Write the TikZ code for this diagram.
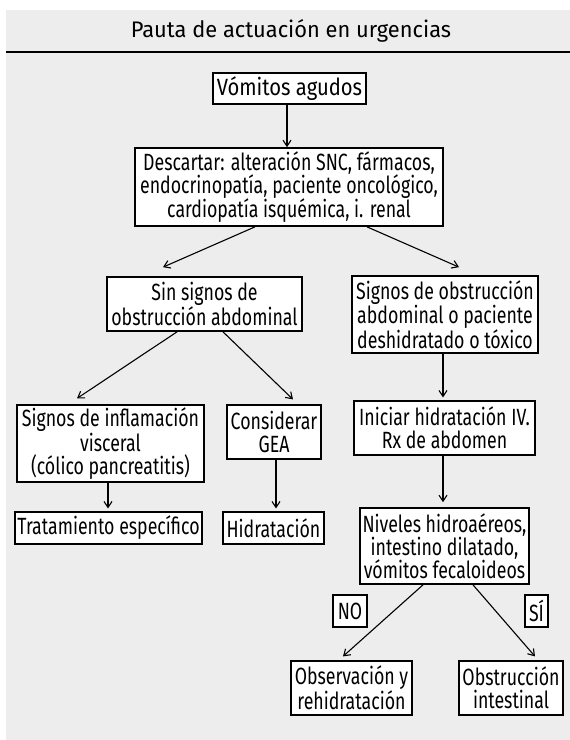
\documentclass[tikz,border=0pt]{standalone}
\usepackage{fontspec}
\setmainfont{Fira Sans}[FakeStretch=0.755]
\newfontfamily\titlefamily{Fira Sans}[FakeStretch=0.97]
\newfontfamily\headfamily{Fira Sans}[FakeStretch=0.86]
\usetikzlibrary{arrows.meta}
\definecolor{panel}{HTML}{EDEDED}
\newcommand\boxfont{\fontsize{23.5}{23}\selectfont}
\newcommand\headfont{\headfamily\fontsize{23.5}{23}\selectfont}
\newcommand\titlefont{\titlefamily\fontsize{22.5}{24}\selectfont}
\begin{document}
\begin{tikzpicture}[x=1pt,y=-1pt,
  box/.style={draw=black, fill=white, line width=1.2pt, inner sep=0pt,
              align=center, font=\boxfont},
  boldbox/.style={box, line width=1.7pt},
  arr/.style={-{Straight Barb[length=6pt,width=8pt]}, line width=1.1pt}]

% page and panel
\useasboundingbox (0,0) rectangle (570,740);
\fill[white] (0,0) rectangle (570,740);
\fill[panel] (6,10) rectangle (570,740);

% title bar
\node[font=\titlefont, anchor=base] (title) at (291,37) {Pauta de actuación en urgencias};
\coordinate (ruleL) at (6,52);
\coordinate (ruleR) at (570,52);
\draw[line width=2.2pt] (ruleL) -- (ruleR);

% boxes
\node[boldbox, font=\headfont, minimum width=153pt, minimum height=31pt] (vom) at (289.5,88.5) {Vómitos agudos};
\node[boldbox, minimum width=308pt, minimum height=78pt] (desc) at (289,187)
  {Descartar: alteración SNC, fármacos,\\endocrinopatía, paciente oncológico,\\cardiopatía isquémica, i. renal};
\node[boldbox, minimum width=195pt, minimum height=54pt] (sin) at (204.5,304)
  {Sin signos de\\obstrucción abdominal};
\node[boldbox, minimum width=186pt, minimum height=77pt] (obs) at (445,314.5)
  {Signos de obstrucción\\abdominal o paciente\\deshidratado o tóxico};
\node[box, minimum width=187pt, minimum height=77pt] (infl) at (110.5,443.5)
  {Signos de inflamación\\visceral\\(cólico pancreatitis)};
\node[box, minimum width=94pt, minimum height=54pt] (cons) at (274,432)
  {Considerar\\GEA};
\node[box, minimum width=181pt, minimum height=54pt] (ini) at (444.5,428)
  {Iniciar hidratación IV.\\Rx de abdomen};
\node[box, minimum width=187pt, minimum height=32pt] (trat) at (108.5,528)
  {Tratamiento específico};
\node[box, minimum width=101pt, minimum height=32pt] (hid) at (273.5,528)
  {Hidratación};
\node[boldbox, minimum width=169pt, minimum height=76pt] (niv) at (444.5,546)
  {Niveles hidroaéreos,\\intestino dilatado,\\vómitos fecaloideos};
\node[box, minimum width=34pt, minimum height=32pt] (no) at (350,611) {NO};
\node[box, minimum width=23pt, minimum height=32pt] (si) at (536.5,611) {SÍ};
\node[box, minimum width=121pt, minimum height=54pt] (obsv) at (351.5,688)
  {Observación y\\rehidratación};
\node[box, minimum width=104pt, minimum height=54pt] (obst) at (511,688)
  {Obstrucción\\intestinal};

% connectors
\draw[arr] ([xshift=-2.5pt]vom.south) -- ([xshift=-2pt]desc.north);
\draw[arr] ([xshift=-34pt]desc.south) -- ([xshift=-41.5pt,yshift=9pt]sin.north);
\draw[arr] ([xshift=78pt]desc.south) -- ([xshift=14pt,yshift=8pt]obs.north);
\draw[arr] ([xshift=-27.5pt]sin.south) -- ([xshift=-33.5pt,yshift=6pt]infl.north);
\draw[arr] ([xshift=18.5pt]sin.south) -- ([xshift=19pt,yshift=5pt]cons.north);
\draw[arr] ([xshift=-2pt]obs.south) -- ([xshift=-1.5pt,yshift=3pt]ini.north);
\draw[arr] ([xshift=-2.5pt]infl.south) -- ([xshift=-0.5pt,yshift=3pt]trat.north);
\draw[arr] ([xshift=2pt]cons.south) -- ([xshift=2.5pt,yshift=3pt]hid.north);
\draw[arr] ([xshift=-1.5pt]ini.south) -- ([xshift=-1.5pt,yshift=5pt]niv.north);
\draw[arr] ([xshift=-21.5pt]niv.south) -- ([xshift=-8.5pt,yshift=4pt]obsv.north);
\draw[arr] ([xshift=28.5pt]niv.south) -- ([xshift=24pt,yshift=4pt]obst.north);
\end{tikzpicture}
\end{document}
